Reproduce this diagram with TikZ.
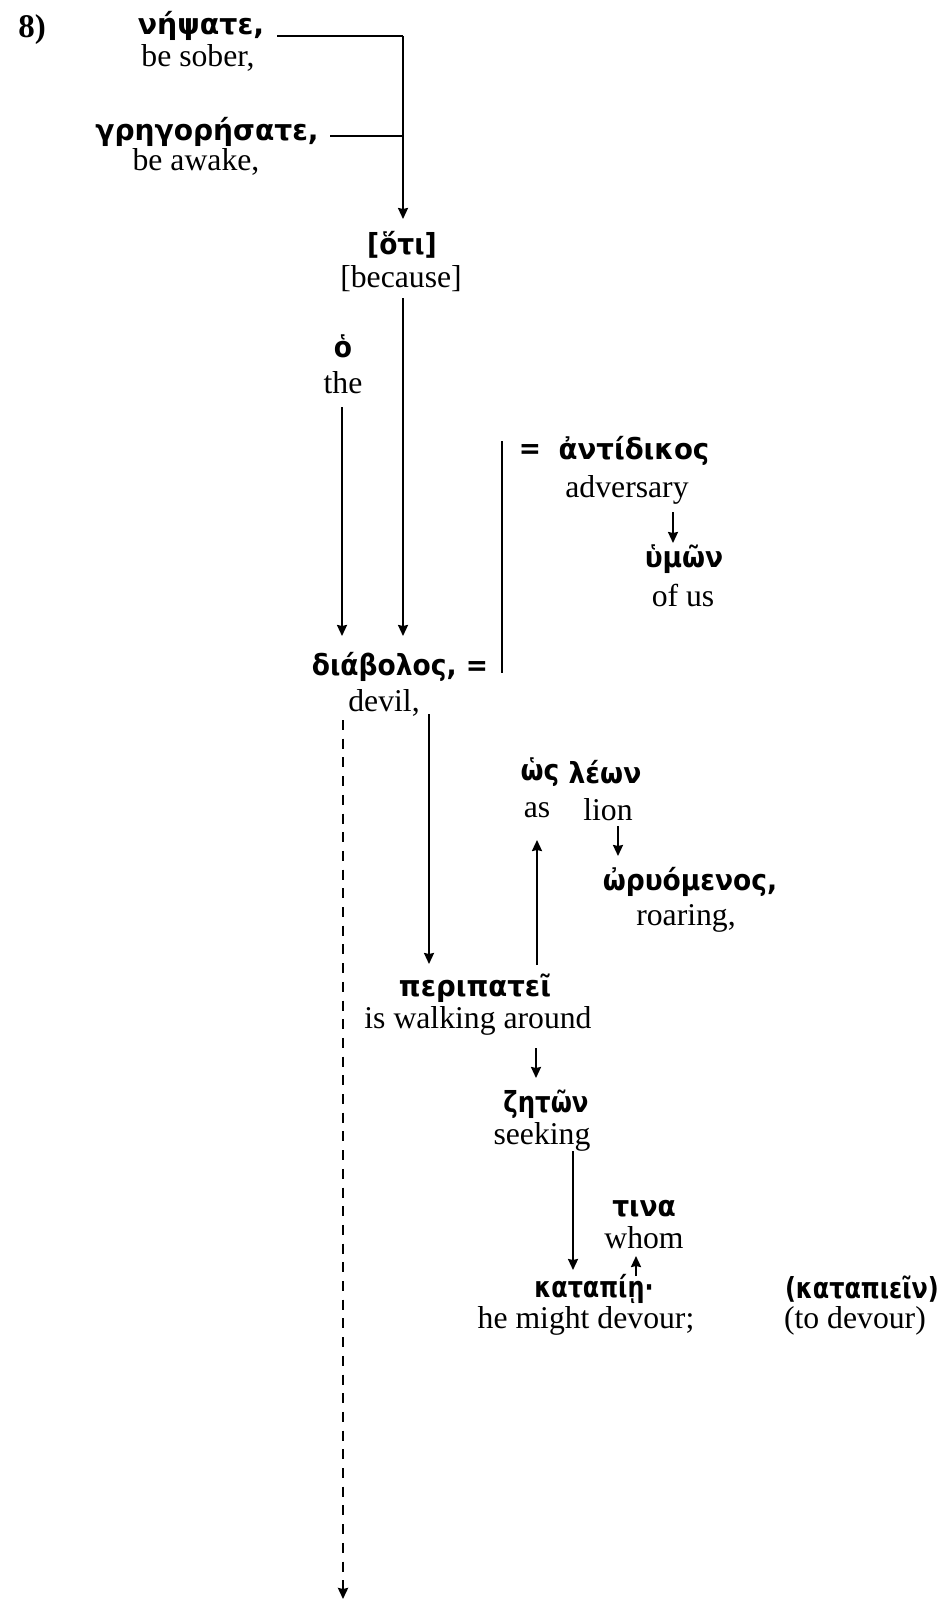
\documentclass[tikz,border=0pt]{standalone}
\usepackage{fontspec}
\setmainfont{Liberation Serif}
\newfontfamily\gkfont{DejaVu Sans}[FakeStretch=0.914]
\usetikzlibrary{arrows.meta}
\newcommand\hsc[2]{\scalebox{#1}[1]{#2}}
\begin{document}
\begin{tikzpicture}[x=1pt,y=-1pt,
  en/.style={font=\fontsize{31.7}{36}\selectfont, inner sep=0pt},
  gk/.style={font=\gkfont\bfseries\fontsize{29}{32}\selectfont, inner sep=0pt},
  conn/.style={line width=2pt},
  arr/.style={conn,-{Stealth[length=11pt,width=10pt,inset=1pt]}},
  dashline/.style={line width=2.6pt,dash pattern=on 10pt off 8.7pt}
]
\useasboundingbox (0,0) rectangle (941,1600);
% texts
\node[en,font=\bfseries\fontsize{33}{36}\selectfont] (num) at (32,30) {8)};
\node[gk] (nep) at (201,26) {\hsc{1.07}{νήψατε,}};
\node[en] (nepE) at (198,58) {be sober,};
\node[gk] (greg) at (207,132) {\hsc{1.06}{γρηγορήσατε,}};
\node[en] (gregE) at (196,162) {be awake,};
\node[gk] (hoti) at (402,245) {[ὅτι]};
\node[en] (hotiE) at (401,279) {[because]};
\node[gk] (ho) at (343,346) {ὁ};
\node[en] (hoE) at (343,383) {the};
\node[gk] (diab) at (400,667) {διάβολος, =};
\node[en] (diabE) at (384,703) {devil,};
\node[gk] (eq2) at (530,452) {=};
\node[gk] (ant) at (634,451) {\hsc{1.04}{ἀντίδικος}};
\node[en] (antE) at (627,490) {adversary};
\node[gk] (hymon) at (684,559) {ὑμῶν};
\node[en] (hymonE) at (683,595) {of us};
\node[gk] (hos) at (540,772) {ὡς};
\node[gk] (leon) at (605,772) {λέων};
\node[en] (hosE) at (537,810) {as};
\node[en] (leonE) at (608,810) {lion};
\node[gk] (oryo) at (690,882) {ὠρυόμενος,};
\node[en] (oryoE) at (686,918) {roaring,};
\node[gk] (peri) at (475,988) {\hsc{1.04}{περιπατεῖ}};
\node[en] (periE) at (478,1021) {is walking around};
\node[gk] (zeton) at (546,1104) {\hsc{0.92}{ζητῶν}};
\node[en] (zetonE) at (542,1137) {seeking};
\node[gk] (tina) at (644,1209) {τινα};
\node[en] (tinaE) at (644,1238) {whom};
\node[gk] (kata) at (594,1289) {\hsc{0.9}{καταπίῃ·}};
\node[en] (kataE) at (586,1321) {he might devour;};
\node[gk,anchor=east] (katainf) at (939,1289) {\hsc{0.9}{(καταπιεῖν)}};
\node[en,anchor=east] (katainfE) at (926,1321) {(to devour)};
% coordinates
\coordinate (n1) at (277,36);
\coordinate (j1) at (403,36);
\coordinate (n2) at (330,136);
\coordinate (j2) at (403,136);
\coordinate (hotiT) at (403,219);
\coordinate (hotiB) at (403,298);
\coordinate (diabT1) at (403,636);
\coordinate (hoB) at (342,407);
\coordinate (diabT2) at (342,636);
\coordinate (barT) at (502,441);
\coordinate (barB) at (502,673);
\coordinate (antB) at (673,512);
\coordinate (hymT) at (673,543);
\coordinate (diabB) at (343,720);
\coordinate (endD) at (343,1599);
\coordinate (devB) at (429,714);
\coordinate (periT) at (429,964);
\coordinate (periR) at (537,965);
\coordinate (hosB) at (537,840);
\coordinate (lionB) at (618,826);
\coordinate (oryoT) at (618,856);
\coordinate (periB) at (536,1048);
\coordinate (zetT) at (536,1078);
\coordinate (seekB) at (573,1151);
\coordinate (kataT) at (573,1270);
\coordinate (kataR) at (636,1276);
\coordinate (whomB) at (636,1256);
% connectors
\draw[conn] (n1) -- (j1);
\draw[conn] (n2) -- (j2);
\draw[arr] (j1) -- (hotiT);
\draw[arr] (hotiB) -- (diabT1);
\draw[arr] (hoB) -- (diabT2);
\draw[conn] (barT) -- (barB);
\draw[arr] (antB) -- (hymT);
\draw[dashline,-{Stealth[length=11pt,width=10pt,inset=1pt]}] (diabB) -- (endD);
\draw[arr] (devB) -- (periT);
\draw[arr] (periR) -- (hosB);
\draw[arr] (lionB) -- (oryoT);
\draw[arr] (periB) -- (zetT);
\draw[arr] (seekB) -- (kataT);
\draw[arr] (kataR) -- (whomB);
\end{tikzpicture}
\end{document}
